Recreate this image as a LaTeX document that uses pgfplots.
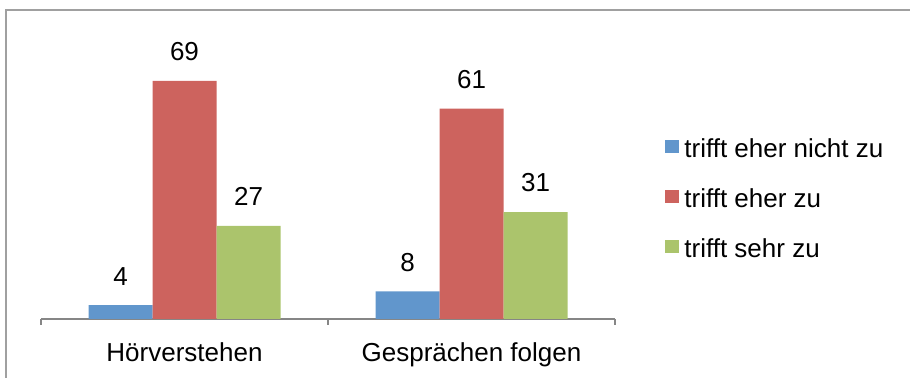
\documentclass[border=0pt]{standalone}
\usepackage{fontspec}
\setmainfont{Liberation Sans}
\usepackage{pgfplots}
\pgfplotsset{compat=1.18}
\definecolor{cblue}{RGB}{97,150,204}
\definecolor{cred}{RGB}{205,99,94}
\definecolor{cgreen}{RGB}{171,196,108}
\definecolor{axgray}{RGB}{134,134,134}
\definecolor{framegray}{RGB}{160,160,160}
\begin{document}
\fontsize{13}{15.6}\selectfont
\begin{tikzpicture}
\useasboundingbox (0,0) rectangle (455pt,189pt);
\draw[framegray, line width=1pt] (3pt,-5pt) -- (3pt,184pt) -- (462pt,184pt);
\begin{axis}[
 at={(20.5pt,29.5pt)}, anchor=south west,
 scale only axis, width=287pt, height=138pt,
 xmin=-0.5, xmax=1.5, ymin=0, ymax=80,
 /pgf/number format/assume math mode=true,
 axis x line*=bottom, axis y line=none,
 axis line style={-, axgray, line width=0.6pt},
 ytick=\empty,
 xtick={0,1}, xticklabels={Hörverstehen, Gesprächen folgen},
 major tick length=0pt,
 minor xtick={-0.5,0.5,1.5}, minor tick length=3pt,
 tick align=outside,
 minor tick style={axgray, line width=0.6pt},
 xticklabel style={anchor=base, yshift=-21.5pt, inner sep=0pt, text=black},
 ybar=0pt, bar width=32pt,
 nodes near coords,
 every node near coord/.append style={black, inner sep=0pt, yshift=9.75pt, font=\fontsize{13}{15.6}\selectfont},
 legend style={at={(1.0871,0.6558)}, anchor=north west, draw=none, fill=none,
   inner sep=0pt, row sep=15.5pt, column sep=2.5pt,
   nodes={inner sep=0pt, text height=9.5pt, text depth=0pt}},
 legend cell align=left,
]
\addplot[fill=cblue, draw=none, legend image code/.code={\fill[cblue] (0pt,-2.75pt) rectangle (7pt,3.75pt);}] coordinates {(0,4) (1,8)};
\addplot[fill=cred, draw=none, legend image code/.code={\fill[cred] (0pt,-2.75pt) rectangle (7pt,3.75pt);}] coordinates {(0,69) (1,61)};
\addplot[fill=cgreen, draw=none, legend image code/.code={\fill[cgreen] (0pt,-2.75pt) rectangle (7pt,3.75pt);}] coordinates {(0,27) (1,31)};
\legend{trifft eher nicht zu, trifft eher zu, trifft sehr zu}
\end{axis}
\end{tikzpicture}
\end{document}
